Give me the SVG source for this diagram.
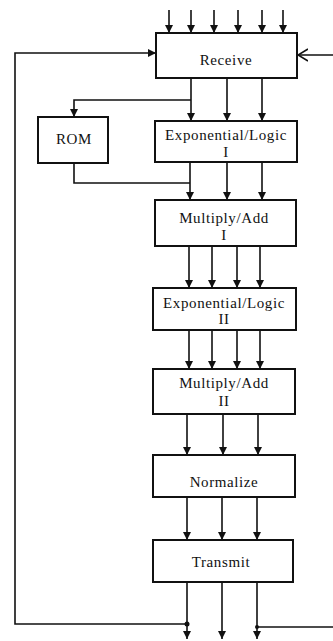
<svg xmlns="http://www.w3.org/2000/svg" width="333" height="641" viewBox="0 0 333 641">
<defs>
<marker id="ah" viewBox="0 0 8 10" refX="8" refY="5" markerWidth="8" markerHeight="10" markerUnits="userSpaceOnUse" orient="auto">
<path d="M0,1 L8,5 L0,9 Z" fill="#111"/>
</marker>
<marker id="open" viewBox="0 0 11 14" refX="10" refY="7" markerWidth="11" markerHeight="14" markerUnits="userSpaceOnUse" orient="auto">
<path d="M0,1 L10,7 L0,13" fill="none" stroke="#111" stroke-width="1.6"/>
</marker>
</defs>
<style>
.box{fill:#fff;stroke:#111;stroke-width:2}
.t{font-family:"Liberation Serif","Times New Roman",serif;font-size:15px;letter-spacing:0.6px;fill:#111;text-anchor:middle}
.c{fill:none;stroke:#111;stroke-width:1.6}
.a{marker-end:url(#ah)}
</style>
<rect width="333" height="641" fill="#fff"/>
<g id="connectors">
<path class="c a" d="M169,10 V33"/>
<path class="c a" d="M191,10 V33"/>
<path class="c a" d="M214,10 V33"/>
<path class="c a" d="M238,10 V33"/>
<path class="c a" d="M262,10 V33"/>
<path class="c a" d="M283,10 V33"/>
<path class="c" d="M333,55 H298" marker-end="url(#open)"/>
<path class="c a" d="M187,624 H15 V53 H156"/>
<circle cx="187" cy="624" r="2.5" fill="#111"/>
<path class="c" d="M257,627 H333"/>
<circle cx="257" cy="627" r="2" fill="#111"/>
<path class="c a" d="M191,78 V121"/>
<path class="c a" d="M227,78 V121"/>
<path class="c a" d="M262,78 V121"/>
<path class="c a" d="M191,100 H74 V117"/>
<path class="c" d="M74,163 V183 H190"/>
<path class="c a" d="M190,162 V200"/>
<path class="c a" d="M227,162 V200"/>
<path class="c a" d="M262,162 V200"/>
<path class="c a" d="M189,246 V288"/>
<path class="c a" d="M212,246 V288"/>
<path class="c a" d="M237,246 V288"/>
<path class="c a" d="M260,246 V288"/>
<path class="c a" d="M189,330 V369"/>
<path class="c a" d="M212,330 V369"/>
<path class="c a" d="M237,330 V369"/>
<path class="c a" d="M260,330 V369"/>
<path class="c a" d="M187,414 V455"/>
<path class="c a" d="M223,414 V455"/>
<path class="c a" d="M258,414 V455"/>
<path class="c a" d="M187,497 V540"/>
<path class="c a" d="M222,497 V540"/>
<path class="c a" d="M257,497 V540"/>
<path class="c a" d="M187,582 V639"/>
<path class="c a" d="M222,582 V639"/>
<path class="c a" d="M257,582 V639"/>
</g>
<g id="receive">
<rect class="box" x="156" y="33" width="141" height="45"/>
<text class="t" x="226" y="65">Receive</text>
</g>
<g id="rom">
<rect class="box" x="38" y="117" width="70" height="46"/>
<text class="t" x="74" y="144">ROM</text>
</g>
<g id="explogic1">
<rect class="box" x="155" y="121" width="142" height="41"/>
<text class="t" x="226" y="140">Exponential/Logic</text>
<text class="t" x="226" y="157">I</text>
</g>
<g id="multadd1">
<rect class="box" x="155" y="200" width="141" height="46"/>
<text class="t" x="224" y="223">Multiply/Add</text>
<text class="t" x="224" y="240">I</text>
</g>
<g id="explogic2">
<rect class="box" x="153" y="288" width="143" height="42"/>
<text class="t" x="224" y="308">Exponential/Logic</text>
<text class="t" x="224" y="324">II</text>
</g>
<g id="multadd2">
<rect class="box" x="153" y="369" width="142" height="45"/>
<text class="t" x="224" y="388">Multiply/Add</text>
<text class="t" x="224" y="406">II</text>
</g>
<g id="normalize">
<rect class="box" x="153" y="455" width="142" height="42"/>
<text class="t" x="224" y="487">Normalize</text>
</g>
<g id="transmit">
<rect class="box" x="153" y="540" width="140" height="42"/>
<text class="t" x="221" y="567">Transmit</text>
</g>
</svg>
